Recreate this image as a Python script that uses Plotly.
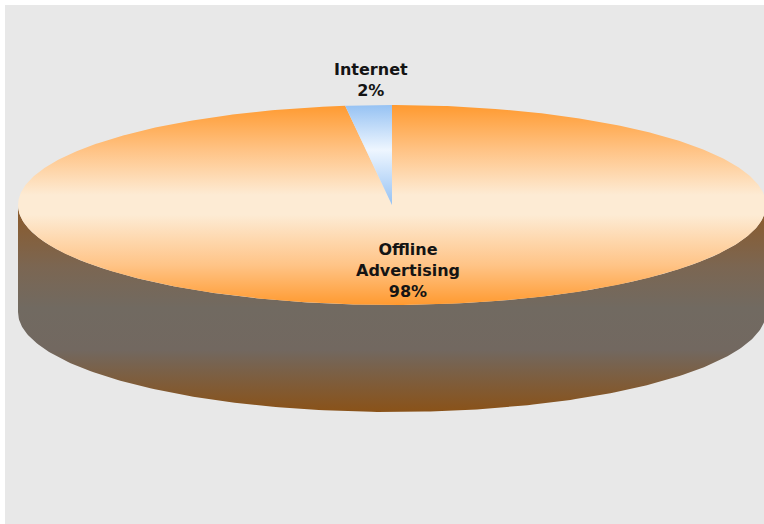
import numpy as np
import plotly.graph_objects as go

# Market share data
labels = ["Offline Advertising", "Internet"]
values = [98, 2]
label_text = ["Offline<br>Advertising<br>98%", "Internet<br>2%"]

# Geometry of the 3D disc (pixel-like data units)
CX, CY = 392.0, 205.0
RX, RY = 374.0, 100.0
DEPTH = 107.0

top_scales = [
    [[0.0, "#ff9a30"], [0.22, "#ffc283"], [0.45, "#fdebd4"], [0.55, "#fdebd4"],
     [0.8, "#ffc487"], [1.0, "#ff9a30"]],
    [[0.0, "#96c2f3"], [0.45, "#eef6ff"], [1.0, "#96c2f3"]],
]
side_scale = [[0.0, "#8d5a28"], [0.3, "#7b6652"], [0.5, "#716a61"], [0.7, "#726860"],
              [1.0, "#8a5218"]]


def ell(phi_deg, dy=0.0):
    p = np.radians(phi_deg)
    return CX + RX * np.sin(p), CY - RY * np.cos(p) + dy


fig = go.Figure()

# Front side wall of the disc
phi = np.linspace(90, 270, 200)
x1, y1 = ell(phi)
x2, y2 = ell(phi[::-1], DEPTH)
fig.add_trace(go.Scatter(
    x=np.concatenate([x1, x2]), y=np.concatenate([y1, y2]),
    mode="lines", line=dict(width=0), fill="toself",
    fillgradient=dict(type="vertical", colorscale=side_scale,
                      start=CY, stop=CY + RY + DEPTH),
    hoverinfo="skip", showlegend=False))

# Top face slices, clockwise from 12 o'clock
total = sum(values)
start = 0.0
mids = []
for i, v in enumerate(values):
    span = 360.0 * v / total
    a = np.linspace(start, start + span, max(int(span * 2), 4))
    xs, ys = ell(a)
    px = np.concatenate([[CX], xs, [CX]])
    py = np.concatenate([[CY], ys, [CY]])
    fig.add_trace(go.Scatter(
        x=px, y=py, mode="lines", line=dict(width=0), fill="toself",
        fillgradient=dict(type="vertical", colorscale=top_scales[i],
                          start=CY - RY, stop=CY + RY if i == 0 else CY),
        name=labels[i], hoverinfo="skip", showlegend=False))
    mids.append(start + span / 2)
    start += span

# Labels
font = dict(family="DejaVu Sans", size=16, color="#141414")
mx, my = ell(mids[0])
fig.add_annotation(x=CX + (mx - CX) * 0.66, y=CY + (my - CY) * 0.66,
                   text="<b>" + label_text[0] + "</b>", showarrow=False,
                   font=font, align="center")
mx, my = ell(mids[1])
fig.add_annotation(x=mx + 2, y=my - 3, text="<b>" + label_text[1] + "</b>",
                   showarrow=False, font=font, align="center", yanchor="bottom")

fig.update_layout(
    width=764, height=524,
    margin=dict(l=5, r=0, t=5, b=0),
    paper_bgcolor="white", plot_bgcolor="#e8e8e8",
    xaxis=dict(range=[5, 764], visible=False, fixedrange=True),
    yaxis=dict(range=[524, 5], visible=False, fixedrange=True),
)

fig.write_html("out.html")
